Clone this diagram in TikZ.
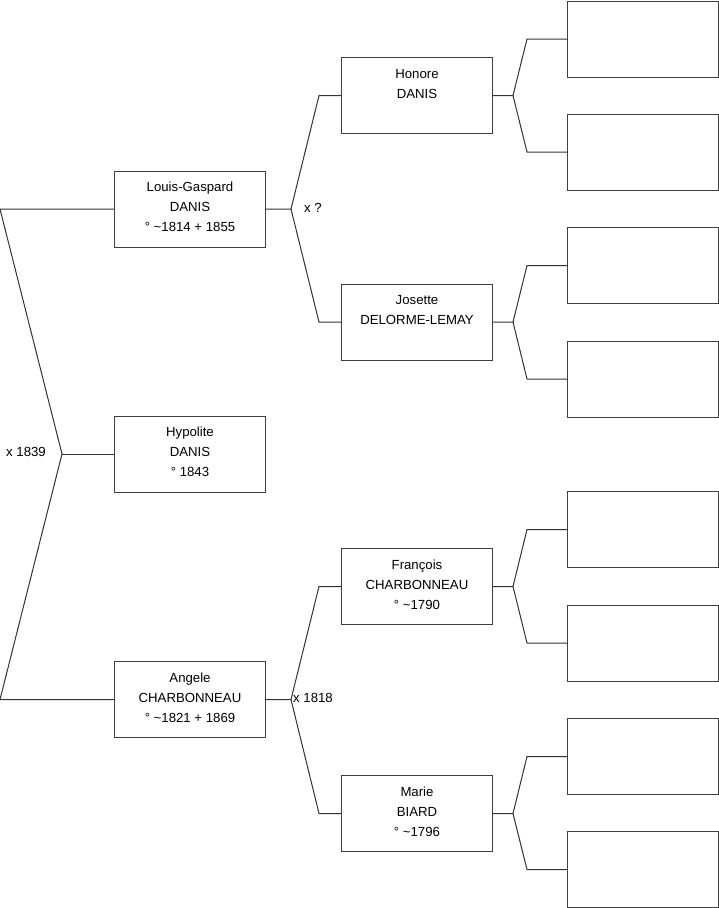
\documentclass[tikz,border=0pt]{standalone}
\usepackage{fontspec}
\setmainfont{Liberation Sans}
\newcommand\pbox[1]{\parbox[c][76pt][t]{151pt}{\centering\fontsize{13.2}{20}\selectfont\rule{0pt}{20.5pt}#1\par}}
\tikzset{
  person/.style={draw=black!75, line width=1pt, inner sep=0pt, anchor=north west},
  link/.style={draw=black!80, line width=1pt},
  lab/.style={font=\fontsize{13.2}{15}\selectfont, inner sep=0pt}
}
\begin{document}
\begin{tikzpicture}[x=1pt,y=-1pt]
\useasboundingbox (0,0) rectangle (719,908);
% generation 1
\node[person] (lg) at (114,170.5) {\pbox{Louis-Gaspard\\DANIS\\° \textasciitilde1814 + 1855}};
\node[person] (hy) at (114,415.5) {\pbox{Hypolite\\DANIS\\° 1843}};
\node[person] (an) at (114,661) {\pbox{Angele\\CHARBONNEAU\\° \textasciitilde1821 + 1869}};
% generation 2
\node[person] (ho) at (341,57) {\pbox{Honore\\DANIS}};
\node[person] (jo) at (341,283.5) {\pbox{Josette\\DELORME-LEMAY}};
\node[person] (fr) at (341,548) {\pbox{François\\CHARBONNEAU\\° \textasciitilde1790}};
\node[person] (ma) at (341,775) {\pbox{Marie\\BIARD\\° \textasciitilde1796}};
% generation 3 (empty)
\node[person] (e1) at (567,0.5) {\pbox{}};
\node[person] (e2) at (567,113.5) {\pbox{}};
\node[person] (e3) at (567,227) {\pbox{}};
\node[person] (e4) at (567,340.5) {\pbox{}};
\node[person] (e5) at (567,491) {\pbox{}};
\node[person] (e6) at (567,604.5) {\pbox{}};
\node[person] (e7) at (567,718) {\pbox{}};
\node[person] (e8) at (567,831) {\pbox{}};
% root fork
\coordinate (rt) at (0,0 |- lg.west);
\coordinate (rb) at (0,0 |- an.west);
\coordinate (rf) at (62,0 |- hy.west);
\draw[link] (lg.west) -- (rt) -- (rf) -- (rb) -- (an.west);
\draw[link] (rf) -- (hy.west);
\node[lab, anchor=east] (m1) at (46,451.5) {x 1839};
% generation 2 forks
\coordinate (f1) at (291,0 |- lg.east);
\coordinate (f1a) at (319,0 |- ho.west);
\coordinate (f1b) at (319,0 |- jo.west);
\draw[link] (lg.east) -- (f1) -- (f1a) -- (ho.west);
\draw[link] (f1) -- (f1b) -- (jo.west);
\node[lab, anchor=west] (m2) at (304,208) {x ?};
\coordinate (f2) at (291,0 |- an.east);
\coordinate (f2a) at (319,0 |- fr.west);
\coordinate (f2b) at (319,0 |- ma.west);
\draw[link] (an.east) -- (f2) -- (f2a) -- (fr.west);
\draw[link] (f2) -- (f2b) -- (ma.west);
\node[lab, anchor=west] (m3) at (293,697.5) {x 1818};
% generation 3 forks
\foreach \p/\a/\b/\n in {ho/e1/e2/g1, jo/e3/e4/g2, fr/e5/e6/g3, ma/e7/e8/g4}{
  \coordinate (\n) at (513,0 |- \p.east);
  \coordinate (\n a) at (527,0 |- \a.west);
  \coordinate (\n b) at (527,0 |- \b.west);
  \draw[link] (\p.east) -- (\n) -- (\n a) -- (\a.west);
  \draw[link] (\n) -- (\n b) -- (\b.west);
}
\end{tikzpicture}
\end{document}
